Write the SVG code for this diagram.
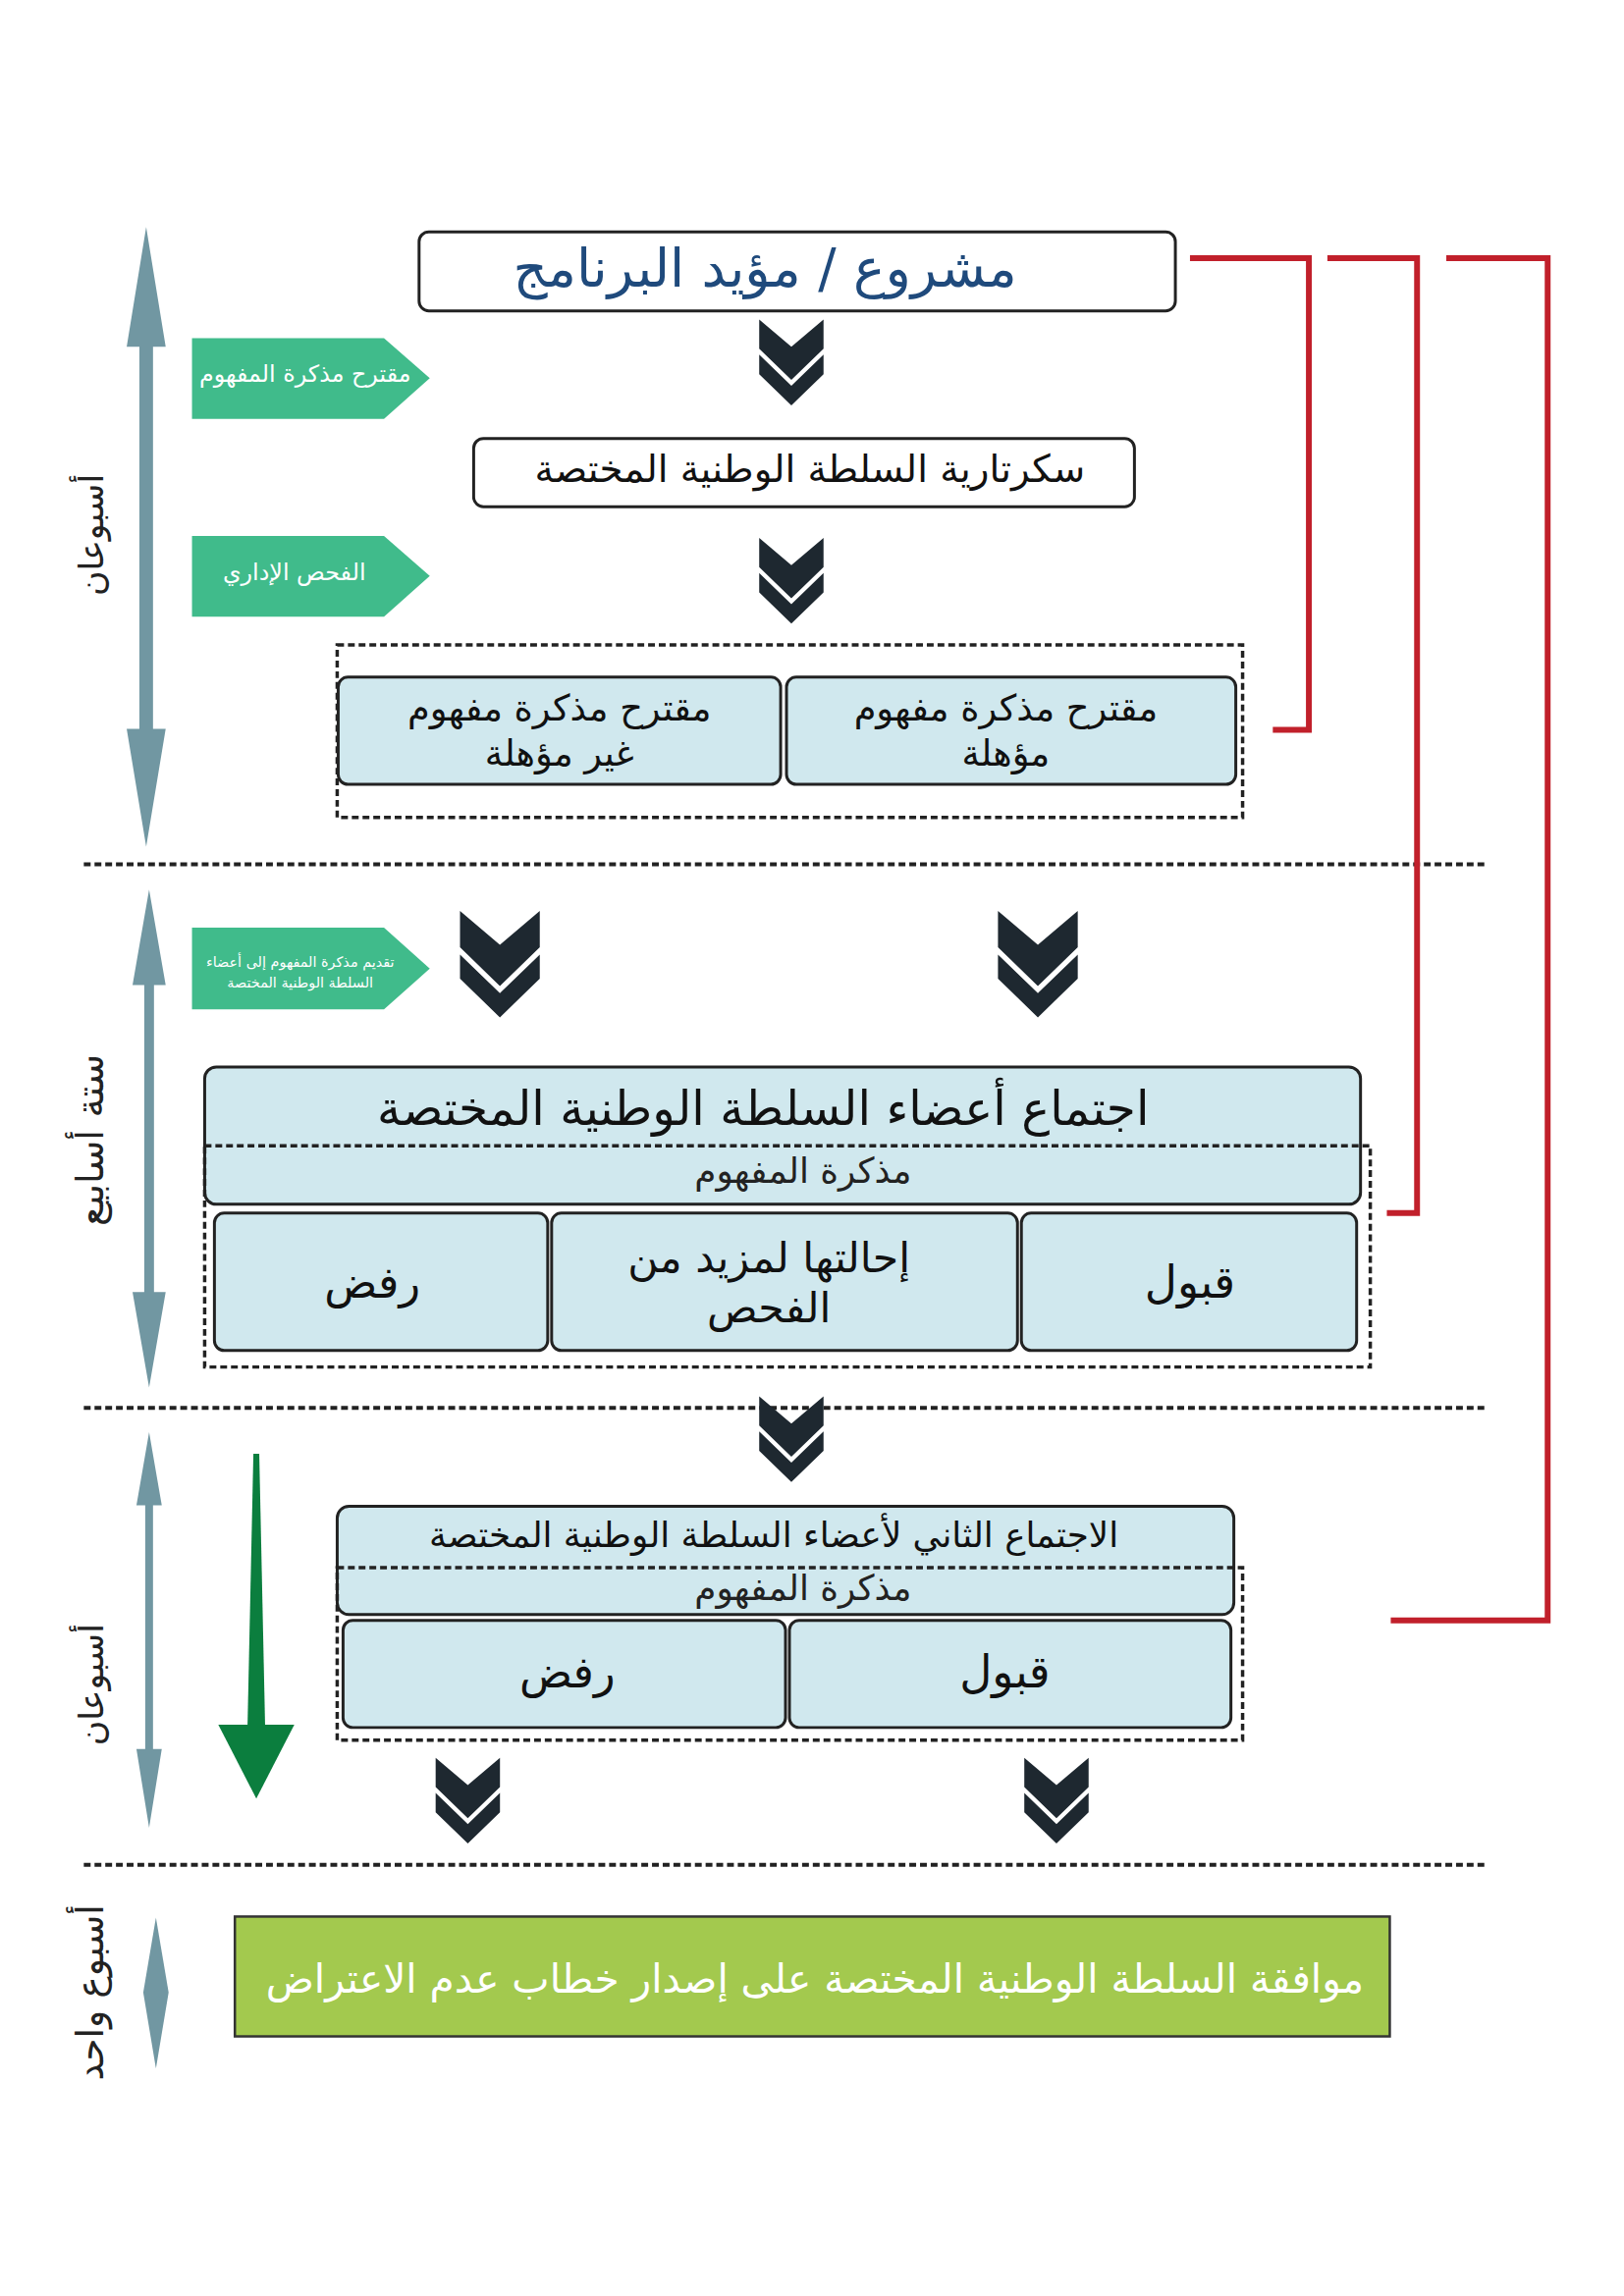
<svg xmlns="http://www.w3.org/2000/svg" width="1654" height="2339" viewBox="0 0 1654 2339">
<style>
.t{font-family:"DejaVu Sans",sans-serif;text-anchor:middle}
.box{fill:#ffffff;stroke:#222;stroke-width:3}
.lb{fill:#d0e8ee;stroke:#222;stroke-width:3}
.dash{fill:none;stroke:#222;stroke-width:3.5;stroke-dasharray:7 4}
.sep{fill:none;stroke:#222;stroke-width:4;stroke-dasharray:7 4}
.red{fill:none;stroke:#c1202b;stroke-width:6}
.tag{fill:#40bb8b}
.tt{fill:#ffffff;font-size:24px}
.lbl{fill:#222;font-size:35px}
.dk{fill:#1e2830}
.ga{fill:#7197a2}
.bk{fill:#111}
</style>
<defs>
<g id="chev">
<polygon class="dk" points="0,36 33,68 66,36 66,56 33,88 0,56"/>
<polygon class="dk" points="0,0 33,28 66,0 66,30 33,62 0,30"/>
</g>
</defs>
<g transform="scale(0.9926)">
<g id="time-axis">
<polygon class="ga" points="150,233 170,356 157,356 157,748 170,748 150,869 130,748 143,748 143,356 130,356"/>
<polygon class="ga" points="153,913 170,1011 158,1011 158,1326 170,1326 153,1424 136,1326 148,1326 148,1011 136,1011"/>
<polygon class="ga" points="153,1470 166,1545 157,1545 157,1795 166,1795 153,1876 140,1795 149,1795 149,1545 140,1545"/>
<polygon class="ga" points="160,1968 173,2045 160,2123 147,2045"/>
<text class="t lbl" x="106" y="549" transform="rotate(-90 106 549)">أسبوعان</text>
<text class="t lbl" x="106" y="1170" style="font-size:39px" transform="rotate(-90 106 1170)">ستة أسابيع</text>
<text class="t lbl" x="106" y="1729" transform="rotate(-90 106 1729)">أسبوعان</text>
<text class="t lbl" x="106" y="2045" style="font-size:38px" transform="rotate(-90 106 2045)">أسبوع واحد</text>
</g>

<g id="separators">
<line class="sep" x1="86" y1="887" x2="1523" y2="887"/>
<line class="sep" x1="86" y1="1445" x2="1523" y2="1445"/>
<line class="sep" x1="86" y1="1914" x2="1523" y2="1914"/>
</g>

<g id="tags">
<g id="tag1"><polygon class="tag" points="197,347 394,347 441,388 394,430 197,430"/><text class="t tt" x="313" y="392">مقترح مذكرة المفهوم</text></g>
<g id="tag2"><polygon class="tag" points="197,550 394,550 441,591 394,633 197,633"/><text class="t tt" x="302" y="595">الفحص الإداري</text></g>
<g id="tag3"><polygon class="tag" points="197,952 394,952 441,994 394,1036 197,1036"/><text class="t tt" style="font-size:14.5px" x="308" y="992">تقديم مذكرة المفهوم إلى أعضاء</text><text class="t tt" style="font-size:14.5px" x="308" y="1014">السلطة الوطنية المختصة</text></g>
</g>

<g id="connectors">
<path class="red" d="M1221 265 H1343 V749 H1306"/>
<path class="red" d="M1362 265 H1454 V1245 H1423"/>
<path class="red" d="M1484 265 H1588 V1663 H1427"/>
<use href="#chev" x="779" y="328"/>
<use href="#chev" x="779" y="552"/>
<use href="#chev" transform="translate(472 935) scale(1.24)"/>
<use href="#chev" transform="translate(1024 935) scale(1.24)"/>
<use href="#chev" x="779" y="1433"/>
<use href="#chev" x="447" y="1804"/>
<use href="#chev" x="1051" y="1804"/>
<polygon fill="#0b7e3e" points="260,1492 266,1492 272,1770 254,1770"/>
<polygon fill="#0b7e3e" points="224,1770 302,1770 263,1846"/>
</g>

<g id="n-project">
<rect class="box" x="430" y="238" width="776" height="81" rx="10"/>
<text class="t" x="785" y="294" style="font-size:55px;fill:#1f4a7c">مشروع / مؤيد البرنامج</text>
</g>
<g id="n-secretariat">
<rect class="box" x="486" y="450" width="678" height="70" rx="10"/>
<text class="t bk" x="831" y="495" style="font-size:39px">سكرتارية السلطة الوطنية المختصة</text>
</g>
<g id="n-screening">
<rect class="dash" x="346" y="662" width="929" height="177"/>
<rect class="lb" x="807" y="695" width="461" height="110" rx="10"/>
<text class="t bk" x="1032" y="739" style="font-size:37px">مقترح مذكرة مفهوم</text>
<text class="t bk" x="1032" y="786" style="font-size:37px">مؤهلة</text>
<rect class="lb" x="347" y="695" width="454" height="110" rx="10"/>
<text class="t bk" x="574" y="739" style="font-size:37px">مقترح مذكرة مفهوم</text>
<text class="t bk" x="574" y="786" style="font-size:37px">غير مؤهلة</text>
</g>
<g id="n-meeting1">
<rect class="lb" x="210" y="1095" width="1186" height="141" rx="12"/>
<text class="t bk" x="783" y="1155" style="font-size:49px">اجتماع أعضاء السلطة الوطنية المختصة</text>
<text class="t" x="824" y="1214" style="font-size:36px;fill:#222">مذكرة المفهوم</text>
<path class="dash" d="M210 1176 H1406 V1403 H210 Z"/>
<rect class="lb" x="220" y="1245" width="342" height="141" rx="10"/>
<text class="t bk" x="382" y="1332" style="font-size:45px">رفض</text>
<rect class="lb" x="566" y="1245" width="478" height="141" rx="10"/>
<text class="t bk" x="789" y="1306" style="font-size:43px">إحالتها لمزيد من</text>
<text class="t bk" x="789" y="1357" style="font-size:43px">الفحص</text>
<rect class="lb" x="1048" y="1245" width="344" height="141" rx="10"/>
<text class="t bk" x="1221" y="1332" style="font-size:46px">قبول</text>
</g>
<g id="n-meeting2">
<rect class="lb" x="346" y="1546" width="920" height="111" rx="12"/>
<text class="t bk" x="794" y="1588" style="font-size:36px">الاجتماع الثاني لأعضاء السلطة الوطنية المختصة</text>
<text class="t" x="824" y="1642" style="font-size:36px;fill:#222">مذكرة المفهوم</text>
<path class="dash" d="M346 1609 H1275 V1786 H346 Z"/>
<rect class="lb" x="352" y="1663" width="454" height="110" rx="10"/>
<text class="t bk" x="582" y="1732" style="font-size:45px">رفض</text>
<rect class="lb" x="810" y="1663" width="453" height="110" rx="10"/>
<text class="t bk" x="1031" y="1732" style="font-size:46px">قبول</text>
</g>
<g id="n-approval">
<rect x="241" y="1967" width="1185" height="123" fill="#a3c94e" stroke="#333" stroke-width="2.5"/>
<text class="t" x="836" y="2045" style="font-size:41px;fill:#ffffff">موافقة السلطة الوطنية المختصة على إصدار خطاب عدم الاعتراض</text>
</g>
</g>
</svg>
